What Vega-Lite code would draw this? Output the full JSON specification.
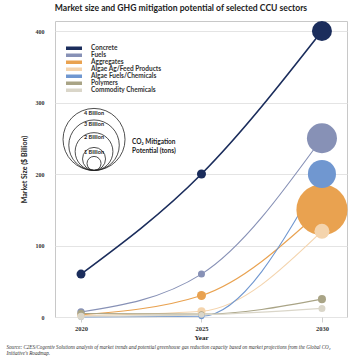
{
  "$schema": "https://vega.github.io/schema/vega-lite/v6.json",
  "padding": {"left": 6, "top": 3, "right": 4, "bottom": 2},
  "title": {
    "text": "Market size and GHG mitigation potential of selected CCU sectors",
    "font": "Lato", "fontWeight": "bold", "fontSize": 8.6, "color": "#222",
    "anchor": "middle", "frame": "bounds", "offset": 8, "dx": 4
  },
  "datasets": {
    "main": [
      {"sector": "Concrete", "year": 2020, "market": 60, "co2": 0.27},
      {"sector": "Concrete", "year": 2025, "market": 200, "co2": 0.27},
      {"sector": "Concrete", "year": 2030, "market": 400, "co2": 0.82},
      {"sector": "Fuels", "year": 2020, "market": 7, "co2": 0.2},
      {"sector": "Fuels", "year": 2025, "market": 60, "co2": 0.19},
      {"sector": "Fuels", "year": 2030, "market": 250, "co2": 1.45},
      {"sector": "Aggregates", "year": 2020, "market": 3, "co2": 0.2},
      {"sector": "Aggregates", "year": 2025, "market": 30, "co2": 0.27},
      {"sector": "Aggregates", "year": 2030, "market": 150, "co2": 3.05},
      {"sector": "Algae Ag/Feed Products", "year": 2020, "market": 2, "co2": 0.2},
      {"sector": "Algae Ag/Feed Products", "year": 2025, "market": 8, "co2": 0.23},
      {"sector": "Algae Ag/Feed Products", "year": 2030, "market": 120, "co2": 0.55},
      {"sector": "Algae Fuels/Chemicals", "year": 2020, "market": 0, "co2": 0.15},
      {"sector": "Algae Fuels/Chemicals", "year": 2025, "market": 1, "co2": 0.15},
      {"sector": "Algae Fuels/Chemicals", "year": 2030, "market": 200, "co2": 1.32},
      {"sector": "Polymers", "year": 2020, "market": 5, "co2": 0.2},
      {"sector": "Polymers", "year": 2025, "market": 4, "co2": 0.15},
      {"sector": "Polymers", "year": 2030, "market": 25, "co2": 0.23},
      {"sector": "Commodity Chemicals", "year": 2020, "market": 1, "co2": 0.2},
      {"sector": "Commodity Chemicals", "year": 2025, "market": 3, "co2": 0.15},
      {"sector": "Commodity Chemicals", "year": 2030, "market": 12, "co2": 0.19}
    ],
    "key": [
      {"co2": 4, "label": "4 Billion"},
      {"co2": 3, "label": "3 Billion"},
      {"co2": 2, "label": "2 Billion"},
      {"co2": 1, "label": "1 Billion"},
      {"co2": 0.5, "label": ""}
    ]
  },
  "vconcat": [
    {
      "width": 292,
      "height": 296,
      "title": {
        "text": ["Source: C2ES/Cogentiv Solutions analysis of market trends and potential greenhouse gas reduction capacity based on market projections from the Global CO₂", "Initiative's Roadmap."],
        "orient": "bottom", "anchor": "start", "frame": "bounds",
        "font": "Liberation Serif", "fontStyle": "italic", "fontWeight": "normal",
        "fontSize": 5.1, "lineHeight": 6, "dx": -13.5, "offset": 4, "color": "#333"
      },
      "layer": [
        {
          "data": {"name": "main"},
          "mark": {"type": "line", "interpolate": "monotone"},
          "encoding": {
            "x": {"field": "year", "type": "quantitative",
                  "scale": {"domain": [2018.92, 2031.04], "nice": false, "zero": false},
                  "axis": {"values": [2020, 2025, 2030], "format": "d", "title": "Year"}},
            "y": {"field": "market", "type": "quantitative",
                  "scale": {"domain": [0, 414], "nice": false},
                  "axis": {"values": [0, 100, 200, 300, 400], "title": "Market Size ($ Billion)"}},
            "color": {"field": "sector", "type": "nominal",
                      "scale": {"domain": ["Concrete", "Fuels", "Aggregates", "Algae Ag/Feed Products", "Algae Fuels/Chemicals", "Polymers", "Commodity Chemicals"],
                                "range": ["#1b2d5c", "#8791b6", "#e9a250", "#f4d4ad", "#7097d0", "#a9a486", "#dad6c9"]},
                      "legend": {
                        "orient": "none", "legendX": 11, "legendY": 24, "title": null,
                        "symbolType": "M-1,-0.22H1V0.22H-1Z", "symbolSize": 256, "symbolStrokeWidth": 0,
                        "labelFont": "Lato", "labelFontWeight": "bold", "labelFontSize": 6.5, "labelColor": "#333",
                        "clipHeight": 6.4, "rowPadding": 0, "labelOffset": 9
                      }},
            "strokeWidth": {"condition": {"test": "datum.sector === 'Concrete'", "value": 1.6}, "value": 1.1}
          }
        },
        {
          "data": {"name": "main"},
          "mark": {"type": "point", "shape": "circle", "filled": true, "opacity": 1},
          "encoding": {
            "x": {"field": "year", "type": "quantitative"},
            "y": {"field": "market", "type": "quantitative"},
            "color": {"field": "sector", "type": "nominal"},
            "size": {"field": "co2", "type": "quantitative",
                     "scale": {"type": "pow", "exponent": 1.43, "domain": [0, 4], "range": [0, 3844]},
                     "legend": null}
          }
        },
        {
          "data": {"name": "key"},
          "mark": {"type": "point", "shape": "circle", "filled": false, "stroke": "#222", "strokeWidth": 0.8, "opacity": 1},
          "encoding": {
            "x": {"datum": 2020.54, "type": "quantitative"},
            "y": {"datum": 205, "type": "quantitative"},
            "size": {"field": "co2", "type": "quantitative",
                     "scale": {"type": "pow", "exponent": 1.43, "domain": [0, 4], "range": [0, 3844]},
                     "legend": null},
            "yOffset": {"field": "co2", "type": "quantitative",
                        "scale": {"type": "pow", "exponent": 0.715, "domain": [0, 4], "range": [0, -31]}}
          }
        },
        {
          "data": {"name": "key"},
          "mark": {"type": "text", "font": "Lato", "fontWeight": "bold", "fontSize": 5.5, "color": "#222", "baseline": "middle", "align": "center"},
          "encoding": {
            "x": {"datum": 2020.54, "type": "quantitative"},
            "y": {"datum": 205, "type": "quantitative"},
            "text": {"field": "label"},
            "yOffset": {"field": "co2", "type": "quantitative",
                        "scale": {"type": "pow", "exponent": 0.715, "domain": [0, 4], "range": [4.5, -57.5]}}
          }
        },
        {
          "data": {"values": [{"t": 1}]},
          "mark": {"type": "text", "font": "Lato", "fontWeight": "bold", "fontSize": 6.5, "color": "#222", "align": "left", "baseline": "middle", "lineHeight": 9,
                   "text": ["CO₂ Mitigation", "Potential (tons)"]},
          "encoding": {
            "x": {"datum": 2022.12, "type": "quantitative"},
            "y": {"datum": 245, "type": "quantitative"}
          }
        }
      ],
      "resolve": {"scale": {"yOffset": "independent"}}
    }
  ],
  "config": {
    "view": {"stroke": "#c8c8c8", "strokeWidth": 1},
    "axisX": {
      "grid": false, "domain": false, "ticks": true, "tickColor": "#cfcfcf", "tickSize": 5,
      "labelFont": "Liberation Serif", "labelFontWeight": "bold", "labelFontSize": 6.5, "labelColor": "#333", "labelPadding": 3,
      "titleFont": "Liberation Serif", "titleFontWeight": "bold", "titleFontSize": 7, "titleColor": "#222", "titlePadding": 2
    },
    "axisY": {
      "grid": true, "gridColor": "#e4e4e4", "domain": false, "ticks": false,
      "labelFont": "Liberation Serif", "labelFontWeight": "bold", "labelFontSize": 6, "labelColor": "#333", "labelPadding": 11,
      "titleFont": "Lato", "titleFontWeight": "bold", "titleFontSize": 7, "titleColor": "#222", "titlePadding": 8
    }
  }
}
